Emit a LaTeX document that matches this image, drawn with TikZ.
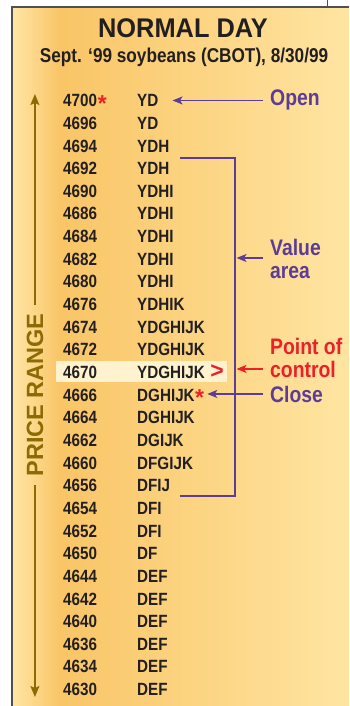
\documentclass[tikz,border=0pt]{standalone}
\usepackage{fontspec}
\setmainfont{Liberation Sans}
\newfontfamily\cnd[FakeStretch=0.86]{Liberation Sans}
\newfontfamily\ttl[FakeStretch=0.94]{Liberation Sans}
\usetikzlibrary{arrows.meta}
\definecolor{bgpale}{RGB}{255,230,166}
\definecolor{bgdark}{RGB}{249,197,102}
\definecolor{bgright}{RGB}{255,229,162}
\definecolor{ink}{RGB}{35,31,32}
\definecolor{vio}{RGB}{92,60,150}
\definecolor{rd}{RGB}{236,32,40}
\definecolor{olv}{RGB}{140,107,5}
\definecolor{brd}{RGB}{80,80,80}
\definecolor{hl}{RGB}{255,242,206}
\begin{document}
\begin{tikzpicture}[x=1pt,y=-1pt,
  num/.style={anchor=base west,inner sep=0pt,text=ink,font=\cnd\bfseries\fontsize{17.7}{20}\selectfont},
  lbl/.style={anchor=base west,inner sep=0pt,font=\cnd\bfseries\fontsize{22.5}{24}\selectfont},
  redmark/.style={anchor=base west,inner sep=0pt,text=rd,font=\bfseries\fontsize{23}{24}\selectfont},
  varr/.style={draw=vio,line width=1.5pt,-{Stealth[length=10pt,width=8pt,inset=2.5pt]}},
  rarr/.style={draw=rd,line width=1.5pt,-{Stealth[length=10pt,width=8pt,inset=2.5pt]}},
  oarr/.style={draw=olv,line width=1.4pt,-{Stealth[length=11pt,width=9pt,inset=2pt]}}]
\useasboundingbox (0,0) rectangle (349,706);
% background panel
\shade[left color=bgpale,right color=bgdark] (12,7) rectangle (60,706);
\shade[left color=bgdark,right color=bgright] (60,7) rectangle (349,706);
\draw[brd,line width=1.5pt] (12,706) -- (12,7) -- (349,7);
\draw[brd,line width=0.8pt] (327.5,0) -- (327.5,7);
% titles
\node[anchor=base,inner sep=0pt,text=ink,font=\ttl\bfseries\fontsize{27}{30}\selectfont] (title) at (183,37.7) {NORMAL DAY};
\node[anchor=base,inner sep=0pt,text=ink,font=\cnd\bfseries\fontsize{20}{22}\selectfont] (sub) at (184,63) {Sept. ‘99 soybeans (CBOT), 8/30/99};
% highlight of point of control row
\fill[hl] (56,361) rectangle (227,382);
% rows
\foreach \n/\l [count=\i from 0] in {4700/YD,4696/YD,4694/YDH,4692/YDH,4690/YDHI,4686/YDHI,4684/YDHI,4682/YDHI,4680/YDHI,4676/YDHIK,4674/YDGHIJK,4672/YDGHIJK,4670/YDGHIJK,4666/DGHIJK,4664/DGHIJK,4662/DGIJK,4660/DFGIJK,4656/DFIJ,4654/DFI,4652/DFI,4650/DF,4644/DEF,4642/DEF,4640/DEF,4636/DEF,4634/DEF,4630/DEF}{
  \node[num] (n\i) at (63,{106.7+22.65*\i}) {\n};
  \node[num] (l\i) at (137,{106.7+22.65*\i}) {\l};
}
\node[redmark] (ast1) at ([xshift=0.5pt,yshift=-4.5pt]n0.base east) {*};
\node[redmark] (ast2) at ([xshift=0pt,yshift=-4.5pt]l13.base east) {*};
\node[redmark] (poc) at ([xshift=5pt,yshift=0.5pt]l12.base east) {>};
% value area bracket
\coordinate (bt) at (180,158);
\coordinate (btr) at (235,158);
\coordinate (bbr) at (235,496);
\coordinate (bb) at (180,496);
\draw[vio,line width=1.6pt] (bt) -- (btr) -- (bbr) -- (bb);
% labels
\node[lbl,text=vio] (open) at (270,106) {Open};
\node[lbl,text=vio] (val1) at (270,255.7) {Value};
\node[lbl,text=vio] (val2) at (270,278.7) {area};
\node[lbl,text=rd] (poc1) at (270,354) {Point of};
\node[lbl,text=rd] (poc2) at (270,377) {control};
\node[lbl,text=vio] (cls) at (270,402) {Close};
% connectors
\draw[varr] ([xshift=-7pt]open.west) -- ([xshift=14pt]l0.east |- open.west);
\coordinate (vaS) at (263,258);
\draw[varr] (vaS) -- ([xshift=1.5pt]bbr |- vaS);
\draw[rarr] ([xshift=-7pt]poc2.west) -- ([xshift=1.5pt]bbr |- poc2.west);
\draw[varr] ([xshift=-7pt]cls.west) -- ([xshift=3pt]ast2.east |- cls.west);
% price range axis
\node[inner sep=0pt,outer sep=8pt,anchor=base,rotate=90,text=olv,font=\bfseries\fontsize{23.5}{25}\selectfont] (pr) at (43,395) {PRICE RANGE};
\coordinate (prT) at (35,94);
\coordinate (prB) at (35,697);
\draw[oarr] (pr.east) -- (pr.east |- prT);
\draw[oarr] (pr.west) -- (pr.west |- prB);
\end{tikzpicture}
\end{document}
